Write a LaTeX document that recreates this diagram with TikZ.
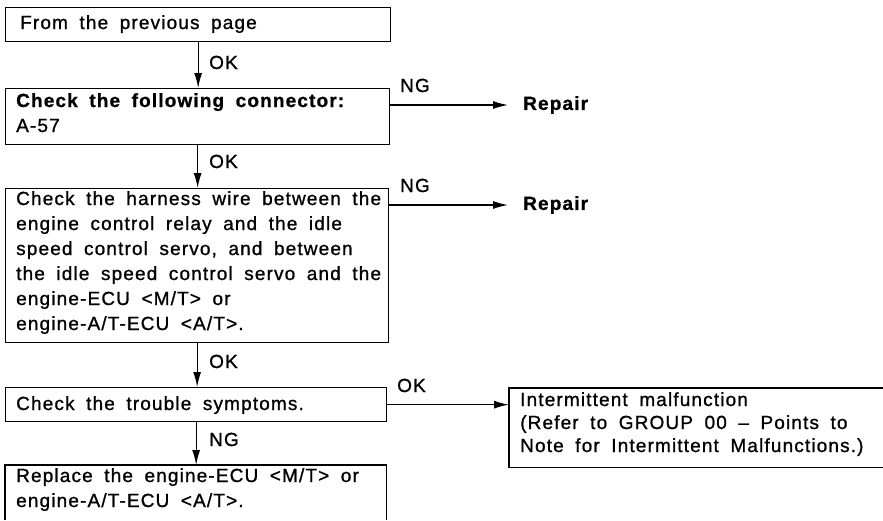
\documentclass[tikz,border=0pt]{standalone}
\usepackage{fontspec}
\setmainfont{Liberation Sans}[LetterSpace=6,WordSpace=1.8,FakeBold=1.0]
\usetikzlibrary{arrows.meta}

\begin{document}
\begin{tikzpicture}[x=1pt,y=-1pt,
  font=\fontsize{19}{25}\selectfont,
  frame/.style={draw,line width=1.3pt,rectangle,inner sep=0pt,anchor=north west},
  openframe/.style={rectangle,inner sep=0pt,anchor=north west},
  edge/.style={line width=1.3pt},
  txt/.style={anchor=base west,inner sep=0pt,align=left},
  flow/.style={line width=1.3pt,-{Latex[length=15pt,width=8pt]}},
  lbl/.style={anchor=base west,inner sep=0pt},
  target/.style={anchor=west,inner sep=0pt,font=\fontsize{19}{25}\selectfont\bfseries}]
\useasboundingbox (0,0) rectangle (883,520);

% main column of check boxes (text nodes are placed by their last baseline)
\node[frame,minimum width=385pt,minimum height=34pt] (b1) at (5,7) {};
\node[txt] (t1) at (20,29) {From the previous page};

\node[frame,minimum width=384pt,minimum height=56pt] (b2) at (5,88) {};
\node[txt] (t2) at (16,132) {\textbf{Check the following connector:}\\A-57};

\node[frame,minimum width=383pt,minimum height=154pt] (b3) at (5,188) {};
\node[txt] (t3) at (16,330) {Check the harness wire between the\\
engine control relay and the idle\\
speed control servo, and between\\
the idle speed control servo and the\\
engine-ECU <M/T> or\\
engine-A/T-ECU <A/T>.};

\node[frame,minimum width=381pt,minimum height=34pt] (b4) at (5,387) {};
\node[txt] (t4) at (16,410) {Check the trouble symptoms.};

% last box runs off the lower edge
\node[openframe,minimum width=381pt,minimum height=55pt] (b5) at (5,465) {};
\draw[edge] (b5.south west) -- (b5.north west) -- (b5.north east) -- (b5.south east);
\node[txt] (t5) at (16,507) {Replace the engine-ECU <M/T> or\\engine-A/T-ECU <A/T>.};

% side results
\node[target] (r1) at (523,105) {Repair};
\node[target] (r2) at (523,205) {Repair};

\node[openframe,minimum width=374pt,minimum height=79pt] (r3) at (509,388) {};
\draw[edge] (r3.north east) -- (r3.north west) -- (r3.south west) -- (r3.south east);
\node[txt,font=\fontsize{19}{23}\selectfont] (t6) at (520,452) {Intermittent malfunction\\
(Refer to GROUP 00 -- Points to\\
Note for Intermittent Malfunctions.)};

% downward flow
\draw[flow] (b1.south) -- (b1.south |- b2.north);
\draw[flow] (b2.south) -- (b2.south |- b3.north);
\draw[flow] (b3.south) -- (b3.south |- b4.north);
\draw[flow] (b4.south) -- (b4.south |- b5.north);
\node[lbl] (l1) at (209,69) {OK};
\node[lbl] (l2) at (209,168) {OK};
\node[lbl] (l3) at (209,368) {OK};
\node[lbl] (l4) at (209,446) {NG};

% branches to the right
\draw[flow] (b2.east |- r1.west) -- ([xshift=-15pt]r1.west);
\draw[flow] (b3.east |- r2.west) -- ([xshift=-15pt]r2.west);
\draw[flow] (b4.east) -- (b4.east -| r3.west);
\node[lbl] (l5) at (400,92) {NG};
\node[lbl] (l6) at (400,192) {NG};
\node[lbl] (l7) at (397,392) {OK};
\end{tikzpicture}
\end{document}
